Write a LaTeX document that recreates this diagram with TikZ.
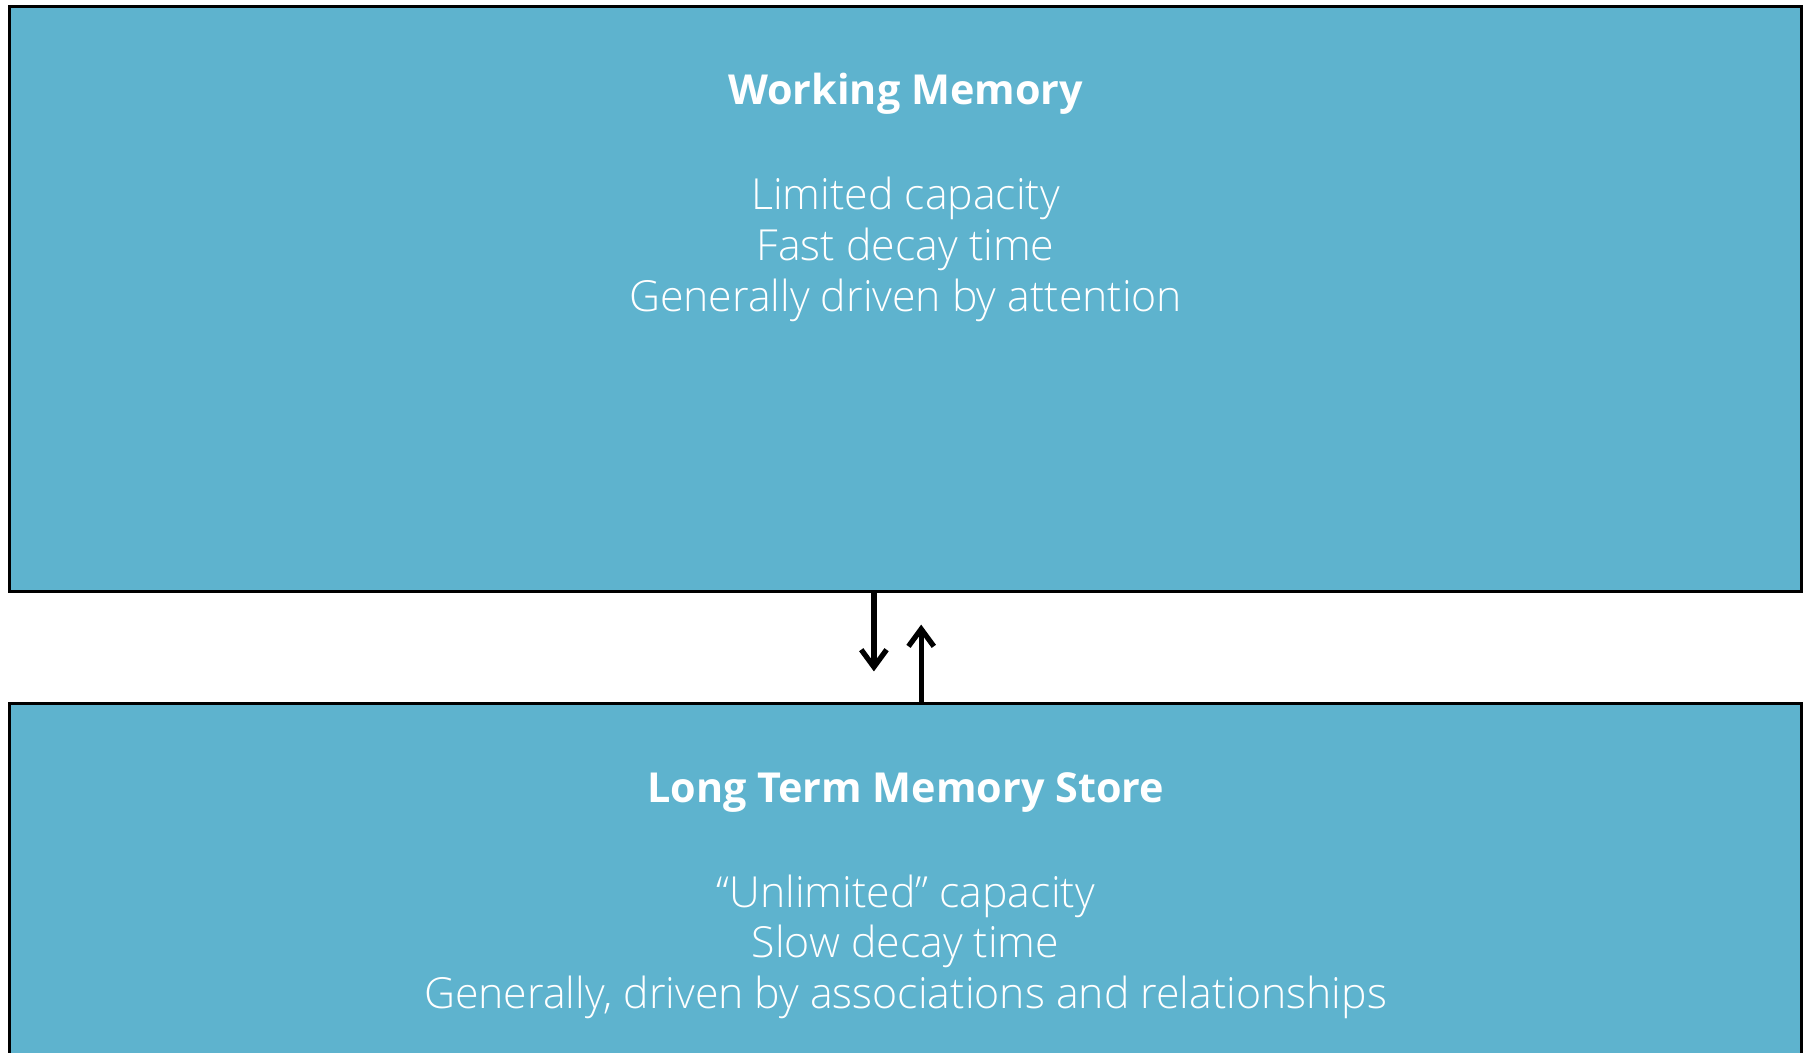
\documentclass[tikz,border=0pt]{standalone}
\usepackage{fontspec}
\setmainfont{Open Sans}
\newfontfamily\lightfont{Open Sans Light}
\usepackage{tikz}
\usetikzlibrary{arrows.meta,positioning,calc}
\definecolor{memblue}{RGB}{94,179,206}

\begin{document}
\begin{tikzpicture}[
  membox/.style={draw=black,line width=0.75pt,fill=memblue,rectangle,minimum width=15.55cm,inner sep=0pt},
  memtitle/.style={text=white,inner sep=0pt,font=\bfseries\fontsize{10.2}{12.5}\selectfont},
  memtext/.style={text=white,inner sep=0pt,align=center,font=\lightfont\fontsize{10.57}{12.5}\selectfont},
  memarrow/.style={line width=1.3pt,-{Straight Barb[length=1.5mm,width=2.2mm]}}]
%%%%% page:
\useasboundingbox (0,0) rectangle (15.68,-9.13);
\clip (0,0) rectangle (15.68,-9.13);
%%%%% boxes:
\node[membox,minimum height=5.08cm,anchor=north west] (wm)  at (0.07,-0.04) {};
\node[membox,minimum height=4cm,anchor=north west]    (ltm) at (0.07,-6.09) {};
%%%%% texts (base = last line):
\node[memtitle,anchor=base] (wmtitle) at ($(wm.north)+(0,-0.87)$) {Working Memory};
\node[memtext,anchor=base]  (wmtext)  at ($(wm.north)+(0,-2.66)$)
  {Limited capacity\\Fast decay time\\Generally driven by attention};
\node[memtitle,anchor=base] (ltmtitle) at ($(ltm.north)+(0,-0.87)$) {Long Term Memory Store};
\node[memtext,anchor=base]  (ltmtext)  at ($(ltm.north)+(0,-2.66)$)
  {“Unlimited” capacity\\Slow decay time\\Generally, driven by associations and relationships};
%%%%% arrows:
\coordinate (dnend) at ($(wm.south)+(-0.275,-0.68)$);
\coordinate (upend) at ($(ltm.north)+(0.135,0.67)$);
\draw[memarrow] ($(wm.south)+(-0.275,0)$) -- (dnend);
\draw[memarrow] ($(ltm.north)+(0.135,0)$) -- (upend);
\end{tikzpicture}
\end{document}
